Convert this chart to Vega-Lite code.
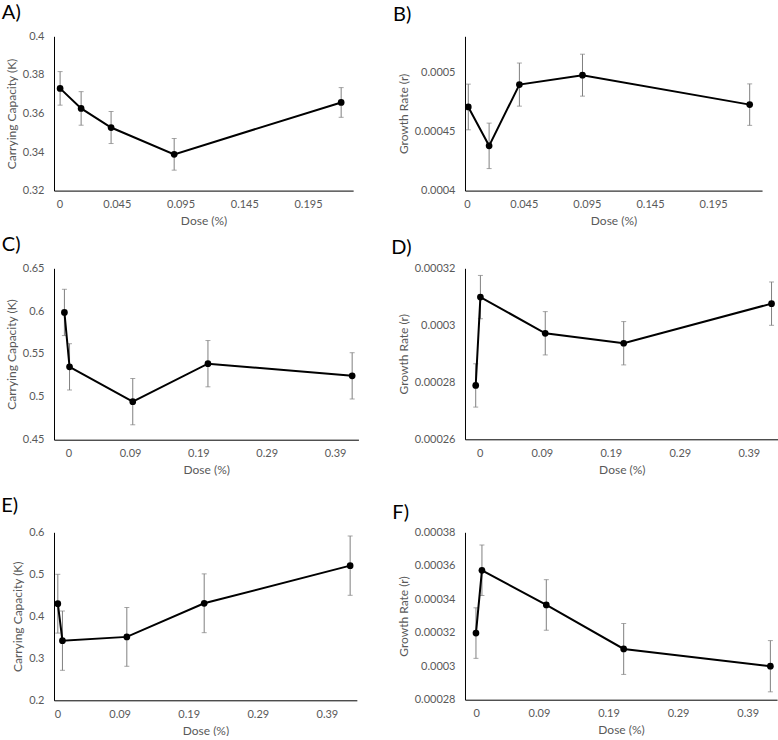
{
  "$schema": "https://vega.github.io/schema/vega-lite/v6.json",
  "padding": {"left": 0, "top": 2.3, "right": 0, "bottom": 0},
  "background": "white",
  "datasets": {
    "A": [
      {"dose": 0.0005, "value": 0.373, "err": 0.0087},
      {"dose": 0.017, "value": 0.3626, "err": 0.0087},
      {"dose": 0.0405, "value": 0.3527, "err": 0.0083},
      {"dose": 0.09, "value": 0.3388, "err": 0.0082},
      {"dose": 0.221, "value": 0.3657, "err": 0.0077}
    ],
    "B": [
      {"dose": 0.001, "value": 0.000471, "err": 0.0000194},
      {"dose": 0.0175, "value": 0.000438, "err": 0.0000193},
      {"dose": 0.0415, "value": 0.00049, "err": 0.0000183},
      {"dose": 0.0915, "value": 0.000498, "err": 0.0000178},
      {"dose": 0.224, "value": 0.000473, "err": 0.0000176}
    ],
    "C": [
      {"dose": -0.006, "value": 0.5985, "err": 0.027},
      {"dose": 0.0015, "value": 0.535, "err": 0.027},
      {"dose": 0.094, "value": 0.4944, "err": 0.027},
      {"dose": 0.204, "value": 0.5387, "err": 0.027},
      {"dose": 0.415, "value": 0.5245, "err": 0.027}
    ],
    "D": [
      {"dose": -0.0058, "value": 0.0002789, "err": 0.0000076},
      {"dose": 0.001, "value": 0.0003099, "err": 0.0000076},
      {"dose": 0.095, "value": 0.0002972, "err": 0.0000076},
      {"dose": 0.2087, "value": 0.0002937, "err": 0.0000076},
      {"dose": 0.423, "value": 0.0003076, "err": 0.0000076}
    ],
    "E": [
      {"dose": 0.0005, "value": 0.43, "err": 0.07},
      {"dose": 0.0072, "value": 0.342, "err": 0.0706},
      {"dose": 0.1004, "value": 0.351, "err": 0.07},
      {"dose": 0.2124, "value": 0.431, "err": 0.07},
      {"dose": 0.4237, "value": 0.5206, "err": 0.0706}
    ],
    "F": [
      {"dose": -0.0005, "value": 0.0003198, "err": 0.0000151},
      {"dose": 0.0081, "value": 0.0003573, "err": 0.0000151},
      {"dose": 0.1006, "value": 0.0003366, "err": 0.0000151},
      {"dose": 0.2118, "value": 0.0003103, "err": 0.0000152},
      {"dose": 0.4226, "value": 0.0003, "err": 0.0000153}
    ],
    "empty": []
  },
  "columns": 4,
  "spacing": 0,
  "bounds": "flush",
  "align": "each",
  "concat": [
    {"width": 1, "height": 32.7, "data": {"name": "empty"}, "mark": "point", "encoding": {}},
    {"width": 1, "height": 32.7, "data": {"name": "empty"}, "mark": "point", "encoding": {}},
    {"width": 1, "height": 32.7, "data": {"name": "empty"}, "mark": "point", "encoding": {}},
    {"width": 1, "height": 32.7, "data": {"name": "empty"}, "mark": "point", "encoding": {}},

    {"width": 53.85, "height": 1, "data": {"name": "empty"}, "mark": "point", "encoding": {}},
    {
      "width": 299.15, "height": 154.3,
      "data": {"name": "A"},
      "title": {"text": "A)", "offset": 7.2, "dx": -52.15},
      "encoding": {
        "x": {"field": "dose", "type": "quantitative", "title": "Dose (%)",
              "scale": {"domain": [-0.00428, 0.2304], "nice": false, "zero": false},
              "axis": {"values": [0, 0.045, 0.095, 0.145, 0.195], "format": ".4~g"}},
        "y": {"field": "value", "type": "quantitative", "title": "Carrying Capacity (K)",
              "scale": {"domain": [0.32, 0.4], "nice": false, "zero": false},
              "axis": {"values": [0.32, 0.34, 0.36, 0.38, 0.4], "format": ".4~g"}}
      },
      "layer": [
        {"mark": {"type": "errorbar", "color": "#808080", "thickness": 1, "ticks": {"size": 5, "color": "#808080", "thickness": 1}}, "encoding": {"yError": {"field": "err"}}},
        {"mark": {"type": "line", "color": "#000000", "strokeWidth": 2}},
        {"mark": {"type": "point", "filled": true, "color": "#000000", "size": 45, "opacity": 1}}
      ]
    },
    {"width": 105.35, "height": 1, "data": {"name": "empty"}, "mark": "point", "encoding": {}},
    {
      "width": 297.05, "height": 154.3,
      "data": {"name": "B"},
      "title": {"text": "B)", "offset": 11.7, "dx": -71.95},
      "encoding": {
        "x": {"field": "dose", "type": "quantitative", "title": "Dose (%)",
              "scale": {"domain": [-0.00161, 0.2338], "nice": false, "zero": false},
              "axis": {"values": [0, 0.045, 0.095, 0.145, 0.195], "format": ".4~g"}},
        "y": {"field": "value", "type": "quantitative", "title": "Growth Rate (r)",
              "scale": {"domain": [0.0004, 0.000531], "nice": false, "zero": false},
              "axis": {"values": [0.0004, 0.00045, 0.0005], "format": ".4~g"}}
      },
      "layer": [
        {"mark": {"type": "errorbar", "color": "#808080", "thickness": 1, "ticks": {"size": 5, "color": "#808080", "thickness": 1}}, "encoding": {"yError": {"field": "err"}}},
        {"mark": {"type": "line", "color": "#000000", "strokeWidth": 2}},
        {"mark": {"type": "point", "filled": true, "color": "#000000", "size": 45, "opacity": 1}}
      ]
    },

    {"width": 1, "height": 77, "data": {"name": "empty"}, "mark": "point", "encoding": {}},
    {"width": 1, "height": 77, "data": {"name": "empty"}, "mark": "point", "encoding": {}},
    {"width": 1, "height": 77, "data": {"name": "empty"}, "mark": "point", "encoding": {}},
    {"width": 1, "height": 77, "data": {"name": "empty"}, "mark": "point", "encoding": {}},

    {"width": 53.85, "height": 1, "data": {"name": "empty"}, "mark": "point", "encoding": {}},
    {
      "width": 304.45, "height": 171.4,
      "data": {"name": "C"},
      "title": {"text": "C)", "offset": 6.8, "dx": -52.15},
      "encoding": {
        "x": {"field": "dose", "type": "quantitative", "title": "Dose (%)",
              "scale": {"domain": [-0.02123, 0.4242], "nice": false, "zero": false},
              "axis": {"values": [0, 0.09, 0.19, 0.29, 0.39], "format": ".4~g"}},
        "y": {"field": "value", "type": "quantitative", "title": "Carrying Capacity (K)",
              "scale": {"domain": [0.45, 0.65], "nice": false, "zero": false},
              "axis": {"values": [0.45, 0.5, 0.55, 0.6, 0.65], "format": ".4~g"}}
      },
      "layer": [
        {"mark": {"type": "errorbar", "color": "#808080", "thickness": 1, "ticks": {"size": 5, "color": "#808080", "thickness": 1}}, "encoding": {"yError": {"field": "err"}}},
        {"mark": {"type": "line", "color": "#000000", "strokeWidth": 2}},
        {"mark": {"type": "point", "filled": true, "color": "#000000", "size": 45, "opacity": 1}}
      ]
    },
    {"width": 105.35, "height": 1, "data": {"name": "empty"}, "mark": "point", "encoding": {}},
    {
      "width": 313.65, "height": 171,
      "data": {"name": "D"},
      "title": {"text": "D)", "offset": 3.8, "dx": -73.65},
      "encoding": {
        "x": {"field": "dose", "type": "quantitative", "title": "Dose (%)",
              "scale": {"domain": [-0.02132, 0.4333], "nice": false, "zero": false},
              "axis": {"values": [0, 0.09, 0.19, 0.29, 0.39], "format": ".4~g"}},
        "y": {"field": "value", "type": "quantitative", "title": "Growth Rate (r)",
              "scale": {"domain": [0.00026, 0.00032], "nice": false, "zero": false},
              "axis": {"values": [0.00026, 0.00028, 0.0003, 0.00032], "format": ".4~g"}}
      },
      "layer": [
        {"mark": {"type": "errorbar", "color": "#808080", "thickness": 1, "ticks": {"size": 5, "color": "#808080", "thickness": 1}}, "encoding": {"yError": {"field": "err"}}},
        {"mark": {"type": "line", "color": "#000000", "strokeWidth": 2}},
        {"mark": {"type": "point", "filled": true, "color": "#000000", "size": 45, "opacity": 1}}
      ]
    },

    {"width": 1, "height": 91.6, "data": {"name": "empty"}, "mark": "point", "encoding": {}},
    {"width": 1, "height": 91.6, "data": {"name": "empty"}, "mark": "point", "encoding": {}},
    {"width": 1, "height": 91.6, "data": {"name": "empty"}, "mark": "point", "encoding": {}},
    {"width": 1, "height": 91.6, "data": {"name": "empty"}, "mark": "point", "encoding": {}},

    {"width": 53.85, "height": 1, "data": {"name": "empty"}, "mark": "point", "encoding": {}},
    {
      "width": 302.85, "height": 168,
      "data": {"name": "E"},
      "title": {"text": "E)", "offset": 10.5, "dx": -52.85},
      "encoding": {
        "x": {"field": "dose", "type": "quantitative", "title": "Dose (%)",
              "scale": {"domain": [-0.00503, 0.4334], "nice": false, "zero": false},
              "axis": {"values": [0, 0.09, 0.19, 0.29, 0.39], "format": ".4~g"}},
        "y": {"field": "value", "type": "quantitative", "title": "Carrying Capacity (K)",
              "scale": {"domain": [0.2, 0.6], "nice": false, "zero": false},
              "axis": {"values": [0.2, 0.3, 0.4, 0.5, 0.6], "format": ".4~g"}}
      },
      "layer": [
        {"mark": {"type": "errorbar", "color": "#808080", "thickness": 1, "ticks": {"size": 5, "color": "#808080", "thickness": 1}}, "encoding": {"yError": {"field": "err"}}},
        {"mark": {"type": "line", "color": "#000000", "strokeWidth": 2}},
        {"mark": {"type": "point", "filled": true, "color": "#000000", "size": 45, "opacity": 1}}
      ]
    },
    {"width": 105.35, "height": 1, "data": {"name": "empty"}, "mark": "point", "encoding": {}},
    {
      "width": 312.05, "height": 167.4,
      "data": {"name": "F"},
      "title": {"text": "F)", "offset": 3.1, "dx": -72.65},
      "encoding": {
        "x": {"field": "dose", "type": "quantitative", "title": "Dose (%)",
              "scale": {"domain": [-0.01625, 0.4322], "nice": false, "zero": false},
              "axis": {"values": [0, 0.09, 0.19, 0.29, 0.39], "format": ".4~g"}},
        "y": {"field": "value", "type": "quantitative", "title": "Growth Rate (r)",
              "scale": {"domain": [0.00028, 0.00038], "nice": false, "zero": false},
              "axis": {"values": [0.00028, 0.0003, 0.00032, 0.00034, 0.00036, 0.00038], "format": ".4~g"}}
      },
      "layer": [
        {"mark": {"type": "errorbar", "color": "#808080", "thickness": 1, "ticks": {"size": 5, "color": "#808080", "thickness": 1}}, "encoding": {"yError": {"field": "err"}}},
        {"mark": {"type": "line", "color": "#000000", "strokeWidth": 2}},
        {"mark": {"type": "point", "filled": true, "color": "#000000", "size": 45, "opacity": 1}}
      ]
    }
  ],
  "config": {
    "view": {"stroke": null},
    "font": "Lato",
    "title": {"font": "Lato", "fontSize": 20, "fontWeight": "normal", "color": "#000000", "anchor": "start", "frame": "group", "baseline": "alphabetic"},
    "axis": {
      "grid": false, "ticks": false, "domainColor": "#000000", "domainWidth": 1,
      "labelFont": "Lato", "labelFontSize": 11, "labelColor": "#595959",
      "labelFlush": false, "labelOverlap": false,
      "titleFont": "Lato", "titleFontSize": 12, "titleFontWeight": "normal", "titleColor": "#595959"
    },
    "axisX": {"labelPadding": 8, "titlePadding": 6},
    "axisY": {"labelPadding": 10, "titlePadding": 4}
  }
}
